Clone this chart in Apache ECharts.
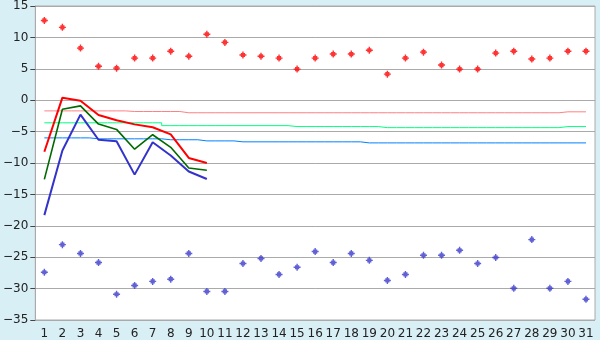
<!DOCTYPE html>
<html><head><meta charset="utf-8">
<script src="https://cdn.jsdelivr.net/npm/echarts@6/dist/echarts.min.js"></script>
<style>html,body{margin:0;padding:0;background:#d9eff6;}#c{width:600px;height:340px;}</style>
</head><body><div id="c"></div>
<script>
const days = Array.from({length:31},(_,i)=>String(i+1));
const yTicks = {min:-35, max:15, interval:5};
const maxPoints = [12.7,11.6,8.3,5.4,5.1,6.7,6.7,7.8,7.0,10.5,9.2,7.2,7.0,6.7,4.95,6.7,7.35,7.35,7.95,4.15,6.7,7.65,5.6,4.95,4.95,7.5,7.8,6.55,6.7,7.8,7.8];
const minPoints = [-27.4,-23.0,-24.4,-25.85,-30.9,-29.5,-28.85,-28.5,-24.4,-30.45,-30.45,-26.0,-25.2,-27.75,-26.6,-24.1,-25.85,-24.4,-25.5,-28.7,-27.75,-24.7,-24.7,-23.9,-26.0,-25.05,-29.95,-22.2,-29.95,-28.85,-31.7];
const normMax = [-1.7,-1.7,-1.7,-1.7,-1.7,-1.8,-1.8,-1.8,-2.0,-2.0,-2.0,-2.0,-2.0,-2.0,-2.0,-2.0,-2.0,-2.0,-2.0,-2.0,-2.0,-2.0,-2.0,-2.0,-2.0,-2.0,-2.0,-2.0,-2.0,-1.85,-1.85];
const normMean = [-3.6,-3.6,-3.6,-3.6,-3.6,-3.6,-3.6,-4.05,-4.05,-4.05,-4.05,-4.05,-4.05,-4.05,-4.2,-4.2,-4.2,-4.2,-4.2,-4.37,-4.37,-4.37,-4.37,-4.37,-4.37,-4.37,-4.37,-4.37,-4.37,-4.2,-4.2];
const normMin = [-6.0,-6.0,-6.0,-6.15,-6.15,-6.15,-6.15,-6.3,-6.3,-6.48,-6.48,-6.63,-6.63,-6.63,-6.63,-6.63,-6.63,-6.63,-6.8,-6.8,-6.8,-6.8,-6.8,-6.8,-6.8,-6.8,-6.8,-6.8,-6.8,-6.8,-6.8];
const dayMax = [-8.2,0.4,-0.1,-2.35,-3.2,-3.85,-4.3,-5.45,-9.2,-10.0];
const dayMean = [-12.6,-1.45,-0.9,-3.8,-4.65,-7.8,-5.5,-7.5,-10.8,-11.15];
const dayMin = [-18.3,-8.0,-2.3,-6.3,-6.55,-11.85,-6.7,-8.8,-11.35,-12.55];

const marker = 'path://M2,0H3V1H4V2H5V3H4V4H3V5H2V4H1V3H0V2H1V1H2Z';
const chart = echarts.init(document.getElementById('c'), null, {renderer:'canvas'});
function stepLine(data,color){return {type:'line',data,step:'middle',symbol:'none',lineStyle:{color,width:1},silent:true};}
function mainLine(data,color,w){return {type:'line',data,symbol:'none',lineStyle:{color,width:w},silent:true};}
chart.setOption({
  animation:false,
  backgroundColor:'#d9eff6',
  textStyle:{fontFamily:'DejaVu Sans'},
  grid:{left:26,right:5,top:5,bottom:20,show:true,backgroundColor:'#ffffff',borderColor:'#aaaaaa',borderWidth:1},
  xAxis:{type:'category',data:days,boundaryGap:true,
    axisLine:{lineStyle:{color:'#aaaaaa'}},
    axisTick:{alignWithLabel:true,length:5,lineStyle:{color:'#444'}},
    axisLabel:{color:'#222',fontSize:12,margin:8,interval:0,fontFamily:'DejaVu Sans'},
    splitLine:{show:false}},
  yAxis:{type:'value',min:yTicks.min,max:yTicks.max,interval:yTicks.interval,
    axisLine:{show:true,lineStyle:{color:'#aaaaaa'}},
    axisTick:{show:true,length:5,lineStyle:{color:'#444'}},
    axisLabel:{color:'#222',fontSize:12,margin:7,fontFamily:'DejaVu Sans',formatter:v=>String(v).replace('-','\u2212')},
    splitLine:{lineStyle:{color:'#aaaaaa',width:1}}},
  series:[
    stepLine(normMax,'#ff8080'),
    stepLine(normMean,'#00ff80'),
    stepLine(normMin,'#0080ff'),
    mainLine(dayMin,'#3333cc',2),
    mainLine(dayMean,'#006a00',1.6),
    mainLine(dayMax,'#ff0000',2),
    {type:'scatter',data:maxPoints,symbol:marker,symbolSize:7,itemStyle:{color:'#ff0000'},silent:true},
    {type:'scatter',data:minPoints,symbol:marker,symbolSize:7,itemStyle:{color:'#3a3acc'},silent:true}
  ]
});
</script></body></html>
